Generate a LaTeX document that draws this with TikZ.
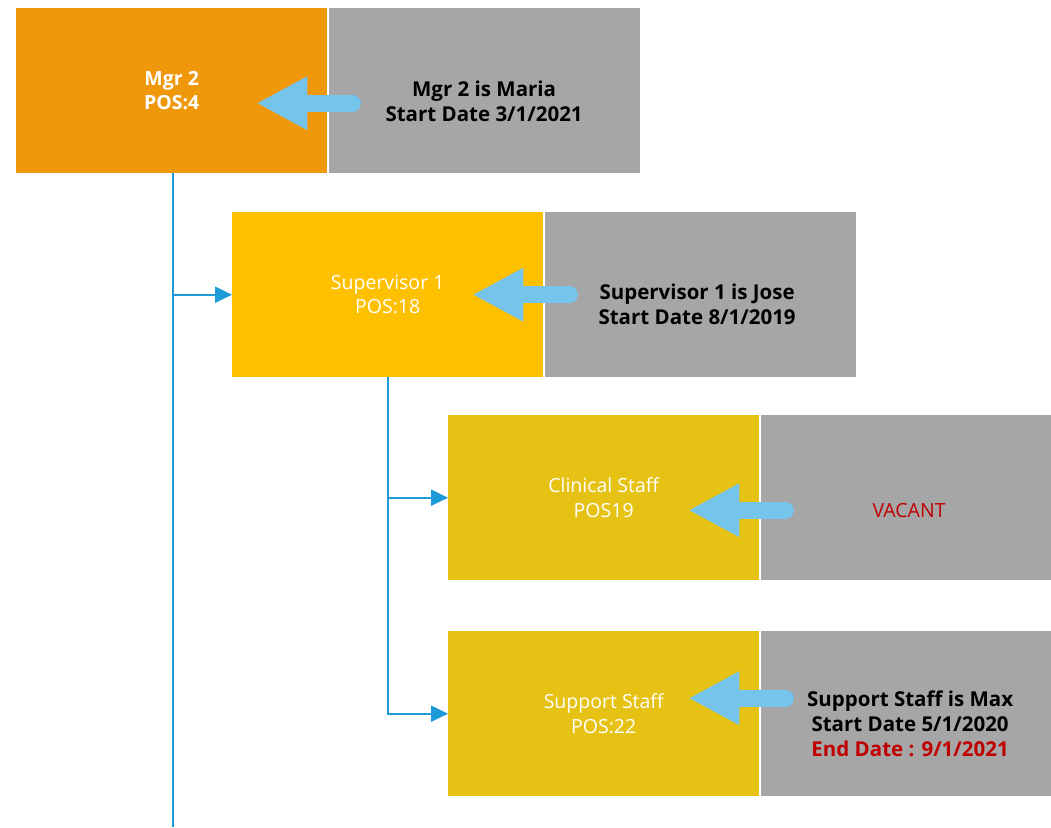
\documentclass[tikz,border=0pt]{standalone}
\usepackage{fontspec}
\setmainfont{Open Sans}
\usetikzlibrary{arrows.meta,positioning}
\definecolor{mgrorange}{RGB}{240,152,12}
\definecolor{supgold}{RGB}{255,192,0}
\definecolor{staffgold}{RGB}{230,194,20}
\definecolor{infogray}{RGB}{166,166,166}
\definecolor{pointblue}{RGB}{116,196,236}
\definecolor{linkblue}{RGB}{30,155,215}
\definecolor{endred}{RGB}{192,0,0}

\begin{document}
\begin{tikzpicture}[x=1pt,y=-1pt,
    box/.style={anchor=north west,minimum width=311pt,minimum height=165pt,inner sep=0pt,
      align=center,text=white,font=\fontsize{19.5}{24.5}\selectfont},
    info/.style={box,fill=infogray},
    infotext/.style={align=center,inner sep=0pt,font=\fontsize{20.5}{25}\selectfont\bfseries},
    pointer/.style={line width=17pt,color=pointblue,line cap=round,-{Triangle[length=51pt,width=50pt]}},
    link/.style={line width=2.2pt,color=linkblue},
    linkto/.style={link,-{Triangle[length=17pt,width=16pt]}}]
    \useasboundingbox (0,0) rectangle (1051,827);
    % row 1
    \node[box,fill=mgrorange,font=\fontsize{19.5}{24.5}\selectfont\bfseries] (mgr) at (16,8) {Mgr 2\\POS:4};
    \node[info,right=1pt of mgr] (mgrinfo) {};
    \node[infotext] (maria) at ([yshift=-11pt]mgrinfo.center) {Mgr 2 is Maria\\Start Date 3/1/2021};
    \draw[pointer] ([shift={(24pt,-12.5pt)}]mgrinfo.west) -- ([shift={(-71pt,-12.5pt)}]mgr.east);
    % row 2
    \node[box,fill=supgold] (sup) at (232,212) {Supervisor 1\\POS:18};
    \node[info,right=1pt of sup] (supinfo) {};
    \node[infotext] (jose) at ([shift={(-3pt,-10pt)}]supinfo.center) {Supervisor 1 is Jose\\Start Date 8/1/2019};
    \draw[pointer] ([xshift=25pt]supinfo.west) -- ([xshift=-71pt]sup.east);
    % row 3
    \node[box,fill=staffgold] (clin) at (448,415) {Clinical Staff\\POS19};
    \node[info,minimum width=291pt,right=1pt of clin] (clininfo) {};
    \node[infotext,font=\fontsize{19.5}{24.5}\selectfont,text=endred] (vacant) at ([shift={(3pt,-12.5pt)}]clininfo.center) {VACANT};
    \draw[pointer] ([shift={(25pt,-12.5pt)}]clininfo.west) -- ([shift={(-71pt,-12.5pt)}]clin.east);
    % row 4
    \node[box,fill=staffgold] (supp) at (448,631) {Support Staff\\POS:22};
    \node[info,minimum width=291pt,right=1pt of supp] (suppinfo) {};
    \node[infotext] (max) at ([shift={(4pt,-10pt)}]suppinfo.center) {Support Staff is Max\\Start Date 5/1/2020\\\textcolor{endred}{End Date : 9/1/2021}};
    \draw[pointer] ([shift={(25pt,15.5pt)}]suppinfo.west) -- ([shift={(-71pt,15.5pt)}]supp.east);
    % reporting lines
    \coordinate (mgrdrop) at ([xshift=157pt]mgr.south west);
    \coordinate (supdrop) at ([xshift=156pt]sup.south west);
    \draw[link] (mgrdrop) -- (mgrdrop |- 0,827);
    \draw[linkto] (mgrdrop |- sup.west) -- (sup.west);
    \draw[linkto] (supdrop) -- (supdrop |- supp.west) -- (supp.west);
    \draw[linkto] (supdrop |- clin.west) -- (clin.west);
\end{tikzpicture}
\end{document}
